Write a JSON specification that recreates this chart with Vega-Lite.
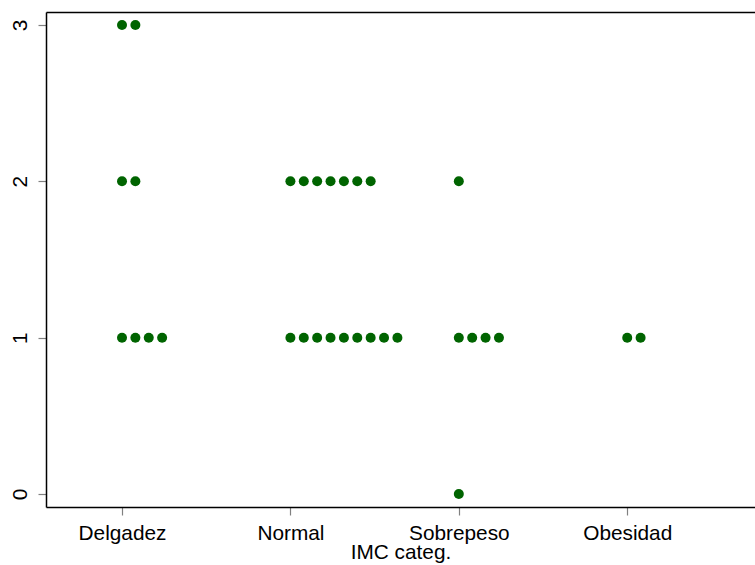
{
  "$schema": "https://vega.github.io/schema/vega-lite/v6.json",
  "autosize": {"type": "none"},
  "padding": {"left": 46, "top": 12, "right": 0, "bottom": 58},
  "width": 709,
  "height": 495,
  "background": "white",
  "config": {
    "view": {"stroke": null},
    "font": "Liberation Sans",
    "axis": {
      "domainColor": "#000000",
      "domainWidth": 1.5,
      "tickColor": "#808080",
      "tickSize": 8,
      "tickWidth": 1.2,
      "labelFont": "Liberation Sans",
      "titleFont": "Liberation Sans",
      "labelFontSize": 20.8,
      "titleFontSize": 20.8,
      "labelColor": "#000000",
      "titleColor": "#000000",
      "titleFontWeight": "normal",
      "grid": false
    }
  },
  "data": {
    "values": [
      {"cat": "Delgadez", "n": 3, "i": 0},
      {"cat": "Delgadez", "n": 3, "i": 1},
      {"cat": "Delgadez", "n": 2, "i": 0},
      {"cat": "Delgadez", "n": 2, "i": 1},
      {"cat": "Delgadez", "n": 1, "i": 0},
      {"cat": "Delgadez", "n": 1, "i": 1},
      {"cat": "Delgadez", "n": 1, "i": 2},
      {"cat": "Delgadez", "n": 1, "i": 3},
      {"cat": "Normal", "n": 2, "i": 0},
      {"cat": "Normal", "n": 2, "i": 1},
      {"cat": "Normal", "n": 2, "i": 2},
      {"cat": "Normal", "n": 2, "i": 3},
      {"cat": "Normal", "n": 2, "i": 4},
      {"cat": "Normal", "n": 2, "i": 5},
      {"cat": "Normal", "n": 2, "i": 6},
      {"cat": "Normal", "n": 1, "i": 0},
      {"cat": "Normal", "n": 1, "i": 1},
      {"cat": "Normal", "n": 1, "i": 2},
      {"cat": "Normal", "n": 1, "i": 3},
      {"cat": "Normal", "n": 1, "i": 4},
      {"cat": "Normal", "n": 1, "i": 5},
      {"cat": "Normal", "n": 1, "i": 6},
      {"cat": "Normal", "n": 1, "i": 7},
      {"cat": "Normal", "n": 1, "i": 8},
      {"cat": "Sobrepeso", "n": 2, "i": 0},
      {"cat": "Sobrepeso", "n": 1, "i": 0},
      {"cat": "Sobrepeso", "n": 1, "i": 1},
      {"cat": "Sobrepeso", "n": 1, "i": 2},
      {"cat": "Sobrepeso", "n": 1, "i": 3},
      {"cat": "Sobrepeso", "n": 0, "i": 0},
      {"cat": "Obesidad", "n": 1, "i": 0},
      {"cat": "Obesidad", "n": 1, "i": 1}
    ]
  },
  "encoding": {
    "x": {
      "field": "cat",
      "type": "nominal",
      "sort": ["Delgadez", "Normal", "Sobrepeso", "Obesidad"],
      "scale": {"type": "point", "padding": 0.605, "align": 0.373}
    },
    "y": {
      "field": "n",
      "type": "quantitative",
      "scale": {"domain": [-0.083, 3.083], "nice": false, "zero": false},
      "axis": {"values": [0, 1, 2, 3], "title": null, "labelAngle": 270, "labelPadding": 8, "labelAlign": "center", "labelBaseline": "bottom"}
    }
  },
  "layer": [
    {
      "mark": {"type": "point", "filled": true, "size": 100, "opacity": 1, "color": "#006400"},
      "encoding": {
        "x": {
          "field": "cat",
          "type": "nominal",
          "sort": ["Delgadez", "Normal", "Sobrepeso", "Obesidad"],
          "scale": {"type": "point", "padding": 0.605, "align": 0.373},
          "axis": {"title": "IMC categ.", "labelAngle": 0, "labelPadding": 8, "titlePadding": 0, "orient": "bottom"}
        },
        "xOffset": {
          "field": "i",
          "type": "ordinal",
          "scale": {"type": "point", "domain": [0, 1, 2, 3, 4, 5, 6, 7, 8], "range": [0, 107], "padding": 0}
        }
      }
    },
    {
      "mark": {"type": "point", "opacity": 0},
      "encoding": {
        "x": {
          "field": "cat",
          "type": "nominal",
          "sort": ["Delgadez", "Normal", "Sobrepeso", "Obesidad"],
          "scale": {"type": "point", "padding": 0.605, "align": 0.373},
          "axis": {"orient": "top", "labels": false, "ticks": false, "title": null, "domain": true}
        }
      }
    }
  ],
  "resolve": {"axis": {"x": "independent"}}
}
